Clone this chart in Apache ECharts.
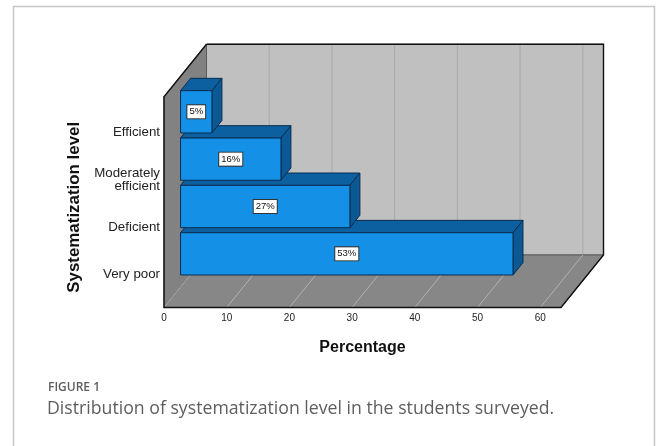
<!DOCTYPE html>
<html>
<head>
<meta charset="utf-8">
<script src="https://cdn.jsdelivr.net/npm/echarts/dist/echarts.min.js"></script>
<style>
  html, body { margin: 0; padding: 0; background: #ffffff; }
  #chart { width: 656px; height: 446px; }
</style>
</head>
<body>
<div id="chart"></div>
<script>
// Categories listed bottom to top on the vertical axis
const categories = ['Very poor', 'Deficient', 'Moderately\nefficient', 'Efficient'];
// Share of students in each systematization level (%)
const percentages = [53, 27, 16, 5];
const valueLabels = ['53%', '27%', '16%', '5%'];
// Percentage axis ticks
const xTicks = [0, 10, 20, 30, 40, 50, 60];
const X_MAX = 63.3;

// Pseudo-3D projection: depth vector of the box (px) and bar placement inside it
const DEPTH = [42.5, -52.5];
const BAR_FRONT = 0.39;   // fraction of depth where bar front faces sit
const BAR_DEPTH = 0.235;  // bar thickness as fraction of depth
const BAR_FRAC = 0.893;   // bar height as fraction of band
const PAD_BOTTOM = 0.70;  // floor below first band centre (in bands)
const PAD_TOP = 0.75;     // box top above last band centre (in bands)

const FONT = 'Arial, "Liberation Sans", sans-serif';

function boxExtents(api) {
  const band = api.size([0, 1])[1];
  const p0 = api.coord([0, 0]);
  const pMax = api.coord([X_MAX, 0]);
  const pTop = api.coord([0, categories.length - 1]);
  return {
    xl: p0[0],
    xr: pMax[0],
    yb: p0[1] + band * PAD_BOTTOM,
    yt: pTop[1] - band * PAD_TOP
  };
}

// Walls, floor and their grid lines
function renderScene(params, api) {
  const e = boxExtents(api);
  const dx = DEPTH[0], dy = DEPTH[1];
  const children = [];
  children.push({
    type: 'polygon',
    shape: { points: [[e.xl + dx, e.yt + dy], [e.xr + dx, e.yt + dy], [e.xr + dx, e.yb + dy], [e.xl + dx, e.yb + dy]] },
    style: { fill: '#c0c0c0', stroke: '#6a6a6a', lineWidth: 1 }
  });
  xTicks.forEach(function (t) {
    if (t === 0) return;
    const x = api.coord([t, 0])[0];
    children.push({
      type: 'line',
      shape: { x1: x + dx, y1: e.yt + dy, x2: x + dx, y2: e.yb + dy },
      style: { stroke: '#a8a8a8', lineWidth: 1 }
    });
  });
  children.push({
    type: 'polygon',
    shape: { points: [[e.xl, e.yt], [e.xl + dx, e.yt + dy], [e.xl + dx, e.yb + dy], [e.xl, e.yb]] },
    style: { fill: '#828282', stroke: '#5a5a5a', lineWidth: 1 }
  });
  children.push({
    type: 'polygon',
    shape: { points: [[e.xl, e.yb], [e.xr, e.yb], [e.xr + dx, e.yb + dy], [e.xl + dx, e.yb + dy]] },
    style: { fill: '#878787', stroke: '#5a5a5a', lineWidth: 1 }
  });
  xTicks.forEach(function (t) {
    const x = api.coord([t, 0])[0];
    children.push({
      type: 'line',
      shape: { x1: x, y1: e.yb, x2: x + dx, y2: e.yb + dy },
      style: { stroke: '#b2b2b2', lineWidth: 1 }
    });
  });
  children.push({
    type: 'polyline',
    shape: {
      points: [
        [e.xl + dx, e.yt + dy], [e.xl, e.yt], [e.xl, e.yb], [e.xr, e.yb],
        [e.xr + dx, e.yb + dy], [e.xr + dx, e.yt + dy], [e.xl + dx, e.yt + dy]
      ]
    },
    style: { fill: null, stroke: '#111111', lineWidth: 1.4 }
  });
  return { type: 'group', children: children };
}

// One pseudo-3D bar per category, with its value tag
function renderBar(params, api) {
  const val = api.value(0);
  const cat = api.value(1);
  const band = api.size([0, 1])[1];
  const start = api.coord([0, cat]);
  const end = api.coord([val, cat]);
  const fx = DEPTH[0] * BAR_FRONT, fy = DEPTH[1] * BAR_FRONT;
  const bx = DEPTH[0] * BAR_DEPTH, by = DEPTH[1] * BAR_DEPTH;
  const h = band * BAR_FRAC;
  const x0 = start[0] + fx, x1 = end[0] + fx;
  const yc = start[1] + fy;
  const y0 = yc - h / 2, y1 = yc + h / 2;
  const edge = { stroke: '#0a2d52', lineWidth: 1 };
  return {
    type: 'group',
    children: [
      {
        type: 'polygon',
        shape: { points: [[x0, y0], [x1, y0], [x1 + bx, y0 + by], [x0 + bx, y0 + by]] },
        style: Object.assign({ fill: '#0d609f' }, edge)
      },
      {
        type: 'polygon',
        shape: { points: [[x1, y0], [x1 + bx, y0 + by], [x1 + bx, y1 + by], [x1, y1]] },
        style: Object.assign({ fill: '#0b5994' }, edge)
      },
      {
        type: 'rect',
        shape: { x: x0, y: y0, width: x1 - x0, height: h },
        style: Object.assign({ fill: '#1491e7' }, edge)
      },
      {
        type: 'text',
        x: (x0 + x1) / 2,
        y: yc,
        style: {
          text: valueLabels[params.dataIndex],
          align: 'center',
          verticalAlign: 'middle',
          fill: '#111',
          font: '9.5px ' + FONT,
          backgroundColor: '#ffffff',
          borderColor: '#333333',
          borderWidth: 1,
          padding: [2, 2, 1, 2]
        }
      }
    ]
  };
}

const chart = echarts.init(document.getElementById('chart'), null, { renderer: 'canvas' });

chart.setOption({
  animation: false,
  backgroundColor: '#ffffff',
  grid: { left: 164, top: 108.6, width: 397, height: 189.4, containLabel: false },
  xAxis: {
    type: 'value',
    min: 0,
    max: X_MAX,
    interval: 10,
    offset: 9.5,
    axisLine: { show: false },
    axisTick: { show: false },
    splitLine: { show: false },
    axisLabel: {
      showMaxLabel: false,
      margin: 6,
      fontSize: 10,
      fontFamily: FONT,
      color: '#222',
      formatter: function (v) { return xTicks.indexOf(v) >= 0 ? String(v) : ''; }
    },
    name: 'Percentage',
    nameLocation: 'middle',
    nameGap: 32,
    nameTextStyle: { fontSize: 16, fontWeight: 'bold', fontFamily: FONT, color: '#111' }
  },
  yAxis: {
    type: 'category',
    data: categories,
    axisLine: { show: false },
    axisTick: { show: false },
    splitLine: { show: false },
    axisLabel: {
      margin: 4,
      fontSize: 13.3,
      lineHeight: 13,
      fontFamily: FONT,
      color: '#222',
      align: 'right'
    },
    name: 'Systematization level',
    nameLocation: 'middle',
    nameRotate: 90,
    nameGap: 79,
    nameTextStyle: { fontSize: 16.9, fontWeight: 'bold', fontFamily: FONT, color: '#111', padding: [0, 8, 0, 0] }
  },
  series: [
    {
      type: 'custom',
      name: 'box',
      renderItem: renderScene,
      data: [[0, 0]],
      encode: { x: 0, y: 1 },
      clip: false,
      silent: true,
      z: 1
    },
    {
      type: 'custom',
      name: 'bars',
      renderItem: renderBar,
      data: percentages.map(function (v, i) { return [v, i]; }),
      encode: { x: 0, y: 1 },
      clip: false,
      z: 2
    }
  ],
  graphic: [
    {
      type: 'polyline',
      shape: { points: [[13.5, 446], [13.5, 6.5], [654.5, 6.5], [654.5, 446]] },
      style: { fill: null, stroke: '#c6c6c6', lineWidth: 1.5 },
      silent: true
    },
    {
      type: 'text',
      left: 48,
      top: 382,
      style: { text: 'FIGURE 1', font: '600 12px "Open Sans", sans-serif', fill: '#5e5e5e' }
    },
    {
      type: 'text',
      left: 47,
      top: 400,
      style: { text: 'Distribution of systematization level in the students surveyed.', font: '17.7px "Open Sans", sans-serif', fill: '#5e5e5e' }
    }
  ]
});
</script>
</body>
</html>
